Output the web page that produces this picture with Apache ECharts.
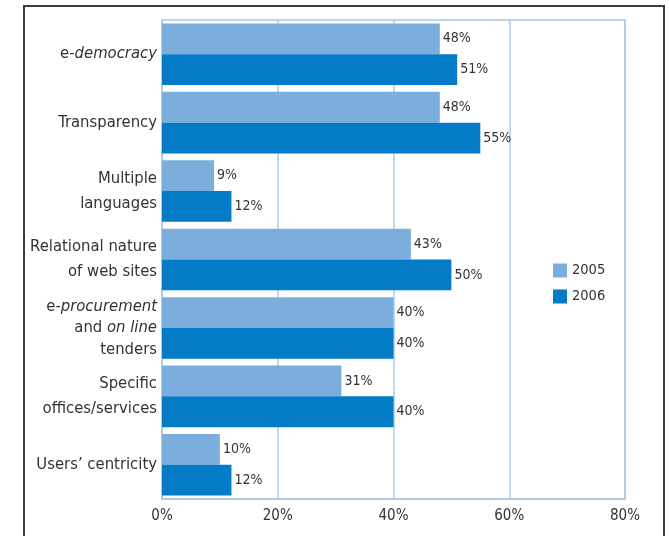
<!DOCTYPE html>
<html>
<head>
<meta charset="utf-8">
<script src="https://cdn.jsdelivr.net/npm/echarts@6/dist/echarts.min.js"></script>
<style>
  html, body { margin: 0; padding: 0; background: #fff; }
  #chart { width: 669px; height: 536px; }
</style>
</head>
<body>
<div id="chart"></div>
<script>
// Website features, share of sites (%)
const categories = [
  'e-democracy',
  'Transparency',
  'Multiple languages',
  'Relational nature of web sites',
  'e-procurement and on line tenders',
  'Specific offices/services',
  'Users\u2019 centricity'
];
const values2005 = [48, 48, 9, 43, 40, 31, 10];
const values2006 = [51, 55, 12, 50, 40, 40, 12];
const seriesNames = ['2005', '2006'];
const xTicks = [0, 20, 40, 60, 80];

// Rich-text versions of the category names (italic terms, line breaks)
const categoryLabels = {
  'e-democracy': '{n|e-}{i|democracy}',
  'Transparency': '{n|Transparency}',
  'Multiple languages': '{n|Multiple}\n{n|languages}',
  'Relational nature of web sites': '{n|Relational nature}\n{n|of web sites}',
  'e-procurement and on line tenders': '{t|e-}{ti|procurement}\n{t|and }{ti|on line}\n{t|tenders}',
  'Specific offices/services': '{n|Specific}\n{n|offices/services}',
  'Users\u2019 centricity': '{n|Users\u2019 centricity}'
};

const FONT = "'Liberation Sans Narrow', 'DejaVu Sans Condensed', sans-serif";
const TEXT = '#333333';
const GRID_BLUE = '#a9c8ea';
const CAT_SIZE = 16.5;

const chart = echarts.init(document.getElementById('chart'), null, { renderer: 'canvas' });

const valueLabel = {
  show: true,
  position: 'right',
  distance: 3,
  formatter: '{c}%',
  fontFamily: FONT,
  fontSize: 14,
  color: TEXT
};

chart.setOption({
  animation: false,
  backgroundColor: '#ffffff',
  textStyle: { fontFamily: FONT, color: TEXT },
  graphic: [{
    type: 'polyline',
    shape: { points: [[24, 540], [24, 6], [664, 6], [664, 540]] },
    style: { stroke: '#3c3c3c', lineWidth: 2, fill: null },
    silent: true
  }],
  legend: {
    data: seriesNames,
    orient: 'vertical',
    left: 553,
    top: 263,
    padding: 0,
    icon: 'rect',
    itemWidth: 14,
    itemHeight: 14,
    itemGap: 11,
    textStyle: { fontFamily: FONT, fontSize: 14.5, color: TEXT }
  },
  grid: {
    left: 162,
    right: 44,
    top: 20,
    bottom: 37,
    show: true,
    borderColor: GRID_BLUE,
    borderWidth: 1.5,
    containLabel: false
  },
  xAxis: {
    type: 'value',
    min: 0,
    max: 80,
    interval: 20,
    axisLine: { show: true, lineStyle: { color: GRID_BLUE, width: 1.5 } },
    axisTick: { show: false },
    splitLine: { show: true, lineStyle: { color: GRID_BLUE, width: 1.5 } },
    axisLabel: {
      margin: 10,
      fontFamily: FONT,
      fontSize: 15,
      color: TEXT,
      formatter: v => (xTicks.includes(v) ? v + '%' : '')
    }
  },
  yAxis: {
    type: 'category',
    data: categories,
    inverse: true,
    axisLine: { show: false },
    axisTick: { show: false },
    splitLine: { show: false },
    axisLabel: {
      margin: 5,
      formatter: v => categoryLabels[v] || v,
      rich: {
        n: { fontFamily: FONT, fontSize: CAT_SIZE, color: TEXT, lineHeight: 25, align: 'right' },
        i: { fontFamily: FONT, fontSize: CAT_SIZE, fontStyle: 'italic', color: TEXT, lineHeight: 25, align: 'right' },
        t: { fontFamily: FONT, fontSize: CAT_SIZE, color: TEXT, lineHeight: 21.5, align: 'right' },
        ti: { fontFamily: FONT, fontSize: CAT_SIZE, fontStyle: 'italic', color: TEXT, lineHeight: 21.5, align: 'right' }
      }
    }
  },
  series: [
    {
      name: seriesNames[0],
      type: 'bar',
      data: values2005,
      barGap: '0%',
      barCategoryGap: '10%',
      itemStyle: { color: '#7baedd' },
      label: valueLabel
    },
    {
      name: seriesNames[1],
      type: 'bar',
      data: values2006,
      barGap: '0%',
      barCategoryGap: '10%',
      itemStyle: { color: '#037bc6' },
      label: valueLabel
    }
  ]
});
</script>
</body>
</html>
